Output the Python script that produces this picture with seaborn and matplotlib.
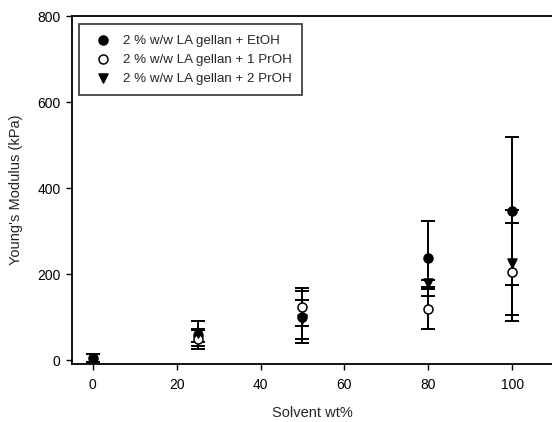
import numpy as np
import pandas as pd
import matplotlib
matplotlib.use("Agg")
import matplotlib.pyplot as plt
import seaborn as sns

# === Данные ===
solvent = [0, 25, 50, 80, 100]
etoh = [5, 58, 100, 237, 347]
etoh_err = [9, 15, 60, 87, 172]
proh1 = [np.nan, 48, 123, 119, 205]
proh1_err = [np.nan, 22, 44, 47, 113]
proh2 = [np.nan, 62, 95, 179, 226]
proh2_err = [np.nan, 30, 45, 8, 122]

labels = ["2 % w/w LA gellan + EtOH",
          "2 % w/w LA gellan + 1 PrOH",
          "2 % w/w LA gellan + 2 PrOH"]

sns.set_style("ticks")
plt.rcParams['font.family'] = ['Liberation Sans', 'DejaVu Sans']

fig = plt.figure(figsize=(5.52, 4.22), dpi=100)
ax = fig.add_axes([0.130, 0.1374, 0.870, 0.8246])

series = [
    (etoh, etoh_err, "o", "black"),
    (proh1, proh1_err, "o", "white"),
    (proh2, proh2_err, "v", "black"),
]

for (vals, errs, mk, face), lab in zip(series, labels):
    df = pd.DataFrame({"x": solvent, "y": vals, "e": errs}).dropna()
    eb = ax.errorbar(df["x"], df["y"], yerr=df["e"], fmt="none", ecolor="black",
                     elinewidth=1.4, capsize=5, capthick=1.4, zorder=2)
    for art in eb.lines[1] + eb.lines[2]:
        art.set_clip_on(False)
    sns.scatterplot(data=df, x="x", y="y", marker=mk, s=42, color=face,
                    edgecolor="black", linewidth=1.1, label=lab, ax=ax, zorder=3,
                    clip_on=False)

ax.set_xlim(-5, 109.5)
ax.set_ylim(-9, 800)
ax.set_xticks([0, 20, 40, 60, 80, 100])
ax.set_yticks([0, 200, 400, 600, 800])
ax.spines['right'].set_visible(False)
for s in ['left', 'bottom', 'top']:
    ax.spines[s].set_linewidth(1.3)
    ax.spines[s].set_color("black")
ax.tick_params(axis='both', direction='out', length=4, width=1, labelsize=10,
               colors="black", pad=6)
ax.tick_params(axis='y', pad=4)

ax.set_xlabel("Solvent wt%", fontsize=10.5, labelpad=10)
ax.set_ylabel("Young's Modulus (kPa)", fontsize=10.5, labelpad=10)

leg = ax.legend(loc="upper left", bbox_to_anchor=(0.006, 0.99), fontsize=9.6,
                frameon=True, fancybox=False, handletextpad=0.5,
                borderpad=0.8, labelspacing=0.5, borderaxespad=0.3)
leg.get_frame().set_edgecolor("black")
leg.get_frame().set_linewidth(1.2)

fig.savefig("out.png", dpi=100)
